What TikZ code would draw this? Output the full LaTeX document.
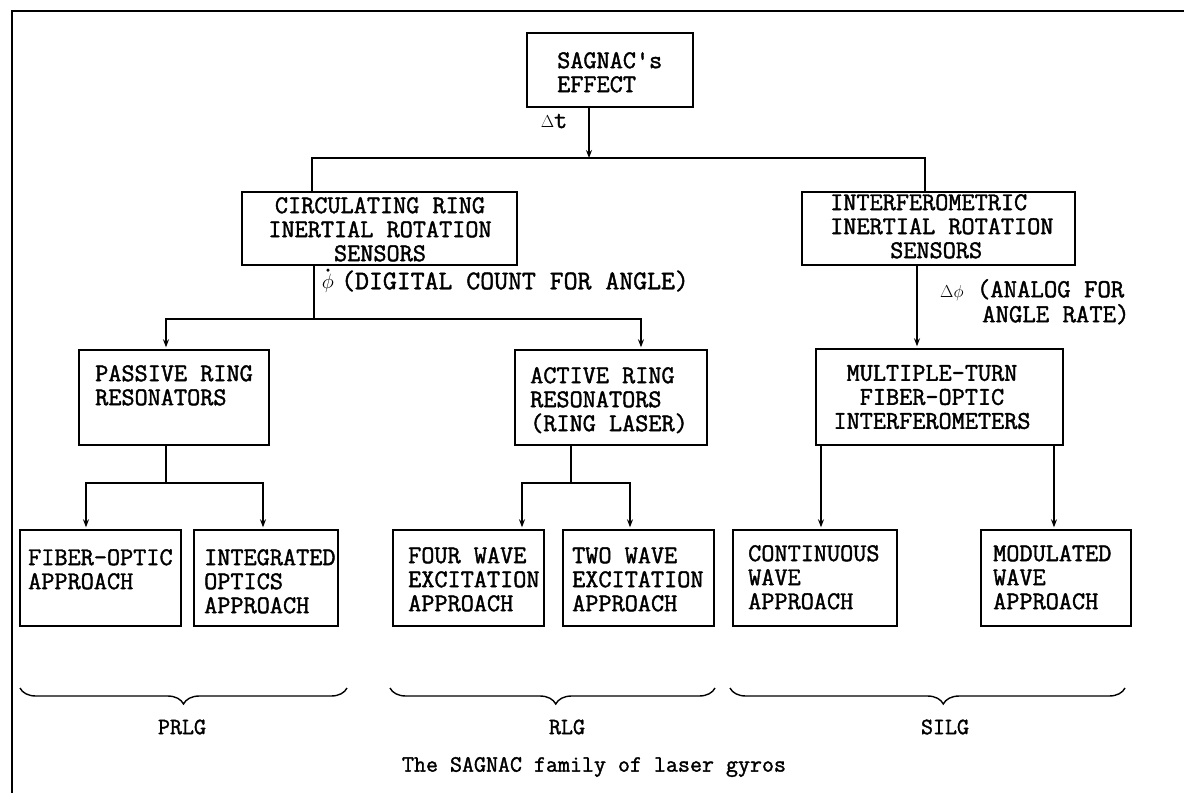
\documentclass[tikz,border=0pt]{standalone}
\usepackage{fontspec}
\newfontfamily\tw[FakeBold=1.6]{Latin Modern Mono}
\setmainfont{Latin Modern Mono}[FakeBold=1.6]
\usetikzlibrary{arrows.meta,decorations.pathreplacing}
\newcommand\mybox[5]{\node[box, minimum width={(#4)-(#2)}, minimum height={(#5)-(#3)}] (#1) at ({((#2)+(#4))/2},{((#3)+(#5))/2}) {};}
\begin{document}
\begin{tikzpicture}[x=1pt,y=-1pt,
  box/.style={draw, line width=1.4pt, inner sep=0pt, rectangle},
  txt/.style={inner sep=0pt, anchor=north west, align=left, font=\tw\fontsize{25.5}{24}\selectfont},
  ctxt/.style={txt, anchor=north, align=center},
  conn/.style={line width=1.4pt},
  arr/.style={conn, -{Stealth[length=8pt,width=6pt]}, shorten >=2pt},
  lab/.style={inner sep=0pt, anchor=west, font=\tw\fontsize{27}{23}\selectfont},
  brc/.style={decorate, decoration={brace, amplitude=16pt, aspect=#1}, line width=1.4pt},
  captext/.style={inner sep=0pt, font=\tw\fontsize{23.3}{24}\selectfont},
]
\useasboundingbox (0,0) rectangle (1184,793);
% frame
\draw[line width=2pt] (12,793) -- (12,11) -- (1184,11);

% boxes
\mybox{sag}{527}{33}{693}{107}
\mybox{circ}{242}{192}{517}{265}
\mybox{intf}{802}{192}{1075}{265}
\mybox{pass}{79}{350}{269}{445}
\mybox{act}{515}{350}{707}{445}
\mybox{mult}{816}{349}{1063}{445}
\mybox{fib}{20}{530}{181}{626}
\mybox{integ}{194}{530}{338}{626}
\mybox{four}{393}{530}{544}{626}
\mybox{two}{563}{530}{714}{626}
\mybox{cont}{733}{530}{897}{626}
\mybox{mod}{981}{530}{1131}{626}

% texts
\node[txt] (tsag) at (557,52) {SAGNAC\symbol{39}s\\EFFECT};
\node[ctxt] (tcirc) at (380,197) {CIRCULATING RING\\INERTIAL ROTATION\\SENSORS};
\node[txt] (tintf) at (830,194) {INTERFEROMETRIC\\INERTIAL ROTATION\\\hspace*{60pt}SENSORS};
\node[txt] (tpass) at (95,365) {PASSIVE RING\\RESONATORS};
\node[txt] (tact) at (530,367) {ACTIVE RING\\RESONATORS\\(RING LASER)};
\node[ctxt] (tmult) at (932,365) {MULTIPLE-TURN\\FIBER-OPTIC\\INTERFEROMETERS};
\node[txt] (tfib) at (28,549) {FIBER-OPTIC\\APPROACH};
\node[txt] (tinteg) at (204,549) {INTEGRATED\\OPTICS\\APPROACH};
\node[txt] (tfour) at (408,547) {FOUR WAVE\\EXCITATION\\APPROACH};
\node[txt] (ttwo) at (572,547) {TWO WAVE\\EXCITATION\\APPROACH};
\node[txt] (tcont) at (748,545) {CONTINUOUS\\WAVE\\APPROACH};
\node[txt] (tmod) at (993,545) {MODULATED\\WAVE\\APPROACH};

% connector coordinates
\coordinate (h1) at (589,158);
\coordinate (hL) at (312,158);
\coordinate (hR) at (925,158);
\coordinate (c1) at (314,319);
\coordinate (c1L) at (166,319);
\coordinate (c1R) at (641,319);
\coordinate (i1) at (917,300);
\coordinate (p1) at (166,483);
\coordinate (p1L) at (86,483);
\coordinate (p1R) at (263,483);
\coordinate (a1) at (571,483);
\coordinate (a1L) at (522,483);
\coordinate (a1R) at (630,483);
\coordinate (m1L) at (821,480);
\coordinate (m1R) at (1054,480);

% connectors
\draw[arr, shorten >=0pt] (sag.south -| h1) -- (h1);
\draw[conn] (circ.north -| hL) -- (hL) -- (hR) -- (intf.north -| hR);
\draw[conn] (circ.south -| c1) -- (c1);
\draw[arr] (c1) -- (c1L) -- (pass.north -| c1L);
\draw[arr] (c1) -- (c1R) -- (act.north -| c1R);
\draw[arr] (intf.south -| i1) -- (mult.north -| i1);
\draw[conn] (pass.south -| p1) -- (p1);
\draw[arr] (p1) -- (p1L) -- (fib.north -| p1L);
\draw[arr] (p1) -- (p1R) -- (integ.north -| p1R);
\draw[conn] (act.south -| a1) -- (a1);
\draw[arr] (a1) -- (a1L) -- (four.north -| a1L);
\draw[arr] (a1) -- (a1R) -- (two.north -| a1R);
\draw[arr] (mult.south -| m1L) -- (cont.north -| m1L);
\draw[arr] (mult.south -| m1R) -- (mod.north -| m1R);

% connector labels
\node[inner sep=0pt, font=\tw\fontsize{25.5}{24}\selectfont] (ldt) at (554,121) {{\fontsize{17}{17}\selectfont$\Delta$}t};
\node[inner sep=0pt, font=\fontsize{20}{20}\selectfont] (lphisym) at (328,283) {$\phi$};
\fill ([yshift=3.5pt]lphisym.north) circle (1.7pt);
\node[lab] (lphi) at (341,281) {(DIGITAL COUNT FOR ANGLE)};
\node[inner sep=0pt, anchor=north west, align=left, font=\tw\fontsize{26}{25}\selectfont] (ldphi) at (940,279) {{\fontsize{18}{18}\selectfont$\Delta\phi$} (ANALOG FOR\\\hspace*{42pt}ANGLE RATE)};

% braces
\draw[brc=0.5] (347,688) -- (20,688);
\draw[brc=0.49] (715,688) -- (390,688);
\draw[brc=0.46] (1125,688) -- (730,688);

\node[captext] (lprlg) at (182,727) {PRLG};
\node[captext] (lrlg) at (567,727) {RLG};
\node[captext] (lsilg) at (945,727) {SILG};
\node[captext] (caption) at (594,767) {The SAGNAC family of laser gyros};
\end{tikzpicture}
\end{document}
